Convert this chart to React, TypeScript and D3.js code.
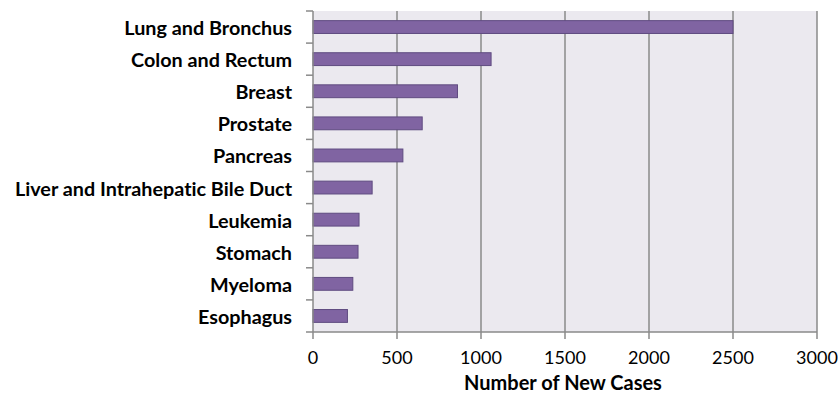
import React from "react";
import * as d3 from "d3";

const categories = [
  "Lung and Bronchus",
  "Colon and Rectum",
  "Breast",
  "Prostate",
  "Pancreas",
  "Liver and Intrahepatic Bile Duct",
  "Leukemia",
  "Stomach",
  "Myeloma",
  "Esophagus",
];
const values = [2500, 1060, 860, 650, 535, 352, 274, 268, 237, 205];
const xTicks = [0, 500, 1000, 1500, 2000, 2500, 3000];
const xTitle = "Number of New Cases";

const W = 838;
const H = 400;
const left = 313;
const right = 817;
const top = 11;
const bottom = 332;

export default function App() {
  const x = d3.scaleLinear().domain([0, 3000]).range([left, right]);
  const y = d3.scaleBand<string>().domain(categories).range([top, bottom]).paddingInner(0.6).paddingOuter(0.3);
  const band = (bottom - top) / categories.length;
  const font = "Lato, Calibri, 'Open Sans', sans-serif";
  const textStyle = { fontVariantLigatures: "none" as const };
  return (
    <div style={{ position: "fixed", left: 0, top: 0 }}>
      <svg width={W} height={H} style={{ display: "block", background: "#fff" }}>
        <rect x={left} y={top} width={right - left} height={bottom - top} fill="#ebe9ef" />
        {xTicks.slice(1).map((t) => (
          <line key={"g" + t} x1={x(t)} x2={x(t)} y1={top} y2={bottom} stroke="#8a8a8a" strokeWidth={1.5} />
        ))}
        {categories.map((c, i) => (
          <rect
            key={c}
            x={x(0)}
            y={y(c)!}
            width={x(values[i]) - x(0)}
            height={y.bandwidth()}
            fill="#8064a2"
            stroke="#5f4b80"
            strokeWidth={1}
          />
        ))}
        {/* left axis */}
        <line x1={left} x2={left} y1={top} y2={bottom} stroke="#8a8a8a" strokeWidth={1.5} />
        {d3.range(categories.length + 1).map((i) => (
          <line key={"yt" + i} x1={left - 7} x2={left} y1={top + i * band} y2={top + i * band} stroke="#8a8a8a" strokeWidth={1.5} />
        ))}
        {/* bottom axis */}
        <line x1={left} x2={right} y1={bottom} y2={bottom} stroke="#8a8a8a" strokeWidth={1.5} />
        {xTicks.map((t) => (
          <line key={"xt" + t} x1={x(t)} x2={x(t)} y1={bottom} y2={bottom + 7} stroke="#8a8a8a" strokeWidth={1.5} />
        ))}
        {xTicks.map((t) => (
          <text key={"xl" + t} x={x(t)} y={357} textAnchor="middle" dominantBaseline="central" fontFamily={font} fontSize={18} fill="#000" style={textStyle}>
            {t}
          </text>
        ))}
        {categories.map((c) => (
          <text
            key={"cl" + c}
            x={292}
            y={y(c)! + y.bandwidth() / 2}
            textAnchor="end"
            dominantBaseline="central"
            fontFamily={font}
            fontWeight="bold"
            fontSize={19.8}
            fill="#000"
            style={textStyle}
          >
            {c}
          </text>
        ))}
        <text x={563} y={382} textAnchor="middle" dominantBaseline="central" fontFamily={font} fontWeight="bold" fontSize={20} fill="#000" style={textStyle}>
          {xTitle}
        </text>
      </svg>
    </div>
  );
}
